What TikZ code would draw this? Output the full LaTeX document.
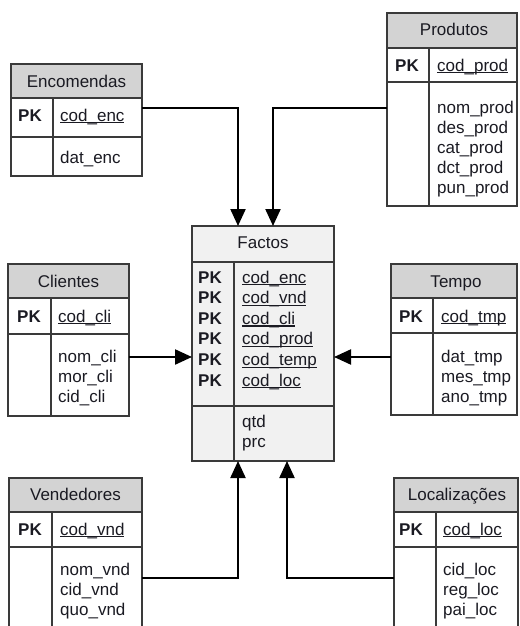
\documentclass[tikz,border=0pt]{standalone}
\usepackage{fontspec}
\setmainfont{Liberation Sans}
\usetikzlibrary{arrows.meta}

\definecolor{txt}{HTML}{1A1A22}
\definecolor{frame}{HTML}{3A3A3A}
\definecolor{headgray}{HTML}{D3D3D3}
\definecolor{factfill}{HTML}{F1F1F1}

% underlined key field, rule just under the baseline
\newcommand\keyfield[1]{\setbox0\hbox{#1}\rlap{\rule[-2.4pt]{\wd0}{1.2pt}}\box0}

\tikzset{
  % invisible shape that names the area of a table
  tablebox/.style={anchor=north west, inner sep=0, outer sep=0},
  rule/.style={draw=frame, line width=1.4pt},
  title/.style={anchor=base, inner sep=0, text=txt, font=\fontsize{17}{20}\selectfont},
  field/.style={anchor=base west, inner sep=0, text=txt, font=\fontsize{17}{20}\selectfont},
  pk/.style={field, font=\fontsize{17}{20}\selectfont\bfseries},
  conn/.style={draw=black, line width=2.2pt, -{Triangle[length=17pt,width=15pt]}},
}

\begin{document}
\begin{tikzpicture}[x=1pt,y=-1pt]
\clip (0,0) rectangle (519,626);
\fill[white] (0,0) rectangle (519,626);

% ---------- Encomendas ----------
\node[tablebox, minimum width=131pt, minimum height=112pt] (enc) at (11,64) {};
\fill[headgray] (11,64) rectangle (142,98);
\draw[rule] (11,64) rectangle (142,176);
\draw[rule] (11,98) -- (142,98) (11,137) -- (142,137) (53,98) -- (53,176);
\node[title] (enc-t) at (76.5,87) {Encomendas};
\node[pk] (enc-pk) at (18,121) {PK};
\node[field] (enc-k) at (60,121) {\keyfield{cod\_enc}};
\node[field] (enc-a1) at (60,163) {dat\_enc};

% ---------- Produtos ----------
\node[tablebox, minimum width=130pt, minimum height=193pt] (prod) at (387,13) {};
\fill[headgray] (387,13) rectangle (517,48);
\draw[rule] (387,13) rectangle (517,206);
\draw[rule] (387,48) -- (517,48) (387,82) -- (517,82) (429,48) -- (429,206);
\node[title] (prod-t) at (454,36) {Produtos};
\node[pk] (prod-pk) at (395,71) {PK};
\node[field] (prod-k) at (437,71) {\keyfield{cod\_prod}};
\node[field] (prod-a1) at (437,113) {nom\_prod};
\node[field] (prod-a2) at (437,133) {des\_prod};
\node[field] (prod-a3) at (437,153) {cat\_prod};
\node[field] (prod-a4) at (437,173) {dct\_prod};
\node[field] (prod-a5) at (437,193) {pun\_prod};

% ---------- Factos ----------
\node[tablebox, minimum width=142pt, minimum height=235pt] (fact) at (192,226) {};
\fill[factfill] (192,226) rectangle (334,461);
\draw[rule] (192,226) rectangle (334,461);
\draw[rule] (192,262) -- (334,262) (192,406) -- (334,406) (234,262) -- (234,461);
\node[title] (fact-t) at (263,248) {Factos};
\node[pk] (fact-pk1) at (198,283) {PK};
\node[pk] (fact-pk2) at (198,303.6) {PK};
\node[pk] (fact-pk3) at (198,324.2) {PK};
\node[pk] (fact-pk4) at (198,344.8) {PK};
\node[pk] (fact-pk5) at (198,365.4) {PK};
\node[pk] (fact-pk6) at (198,386) {PK};
\node[field] (fact-k1) at (242,283) {\keyfield{cod\_enc}};
\node[field] (fact-k2) at (242,303.6) {\keyfield{cod\_vnd}};
\node[field] (fact-k3) at (242,324.2) {\keyfield{cod\_cli}};
\node[field] (fact-k4) at (242,344.8) {\keyfield{cod\_prod}};
\node[field] (fact-k5) at (242,365.4) {\keyfield{cod\_temp}};
\node[field] (fact-k6) at (242,386) {\keyfield{cod\_loc}};
\node[field] (fact-a1) at (242,427) {qtd};
\node[field] (fact-a2) at (242,447) {prc};

% ---------- Clientes ----------
\node[tablebox, minimum width=121pt, minimum height=152pt] (cli) at (8,264) {};
\fill[headgray] (8,264) rectangle (129,298);
\draw[rule] (8,264) rectangle (129,416);
\draw[rule] (8,298) -- (129,298) (8,334) -- (129,334) (51,298) -- (51,416);
\node[title] (cli-t) at (68.5,287) {Clientes};
\node[pk] (cli-pk) at (17,322) {PK};
\node[field] (cli-k) at (58,322) {\keyfield{cod\_cli}};
\node[field] (cli-a1) at (58,362) {nom\_cli};
\node[field] (cli-a2) at (58,382) {mor\_cli};
\node[field] (cli-a3) at (58,402) {cid\_cli};

% ---------- Tempo ----------
\node[tablebox, minimum width=126pt, minimum height=151pt] (tmp) at (391,264) {};
\fill[headgray] (391,264) rectangle (517,298);
\draw[rule] (391,264) rectangle (517,415);
\draw[rule] (391,298) -- (517,298) (391,333) -- (517,333) (433,298) -- (433,415);
\node[title] (tmp-t) at (456,287) {Tempo};
\node[pk] (tmp-pk) at (399,322) {PK};
\node[field] (tmp-k) at (441,322) {\keyfield{cod\_tmp}};
\node[field] (tmp-a1) at (441,362) {dat\_tmp};
\node[field] (tmp-a2) at (441,382) {mes\_tmp};
\node[field] (tmp-a3) at (441,402) {ano\_tmp};

% ---------- Vendedores (runs past the lower edge) ----------
\node[tablebox, minimum width=133pt, minimum height=170pt] (vnd) at (9,478) {};
\fill[headgray] (9,478) rectangle (142,512);
\draw[rule] (9,648) -- (9,478) -- (142,478) -- (142,648);
\draw[rule] (9,512) -- (142,512) (9,547) -- (142,547) (52,512) -- (52,648);
\node[title] (vnd-t) at (75.5,500) {Vendedores};
\node[pk] (vnd-pk) at (18,535) {PK};
\node[field] (vnd-k) at (60,535) {\keyfield{cod\_vnd}};
\node[field] (vnd-a1) at (60,575) {nom\_vnd};
\node[field] (vnd-a2) at (60,595) {cid\_vnd};
\node[field] (vnd-a3) at (60,615) {quo\_vnd};

% ---------- Localizações (runs past the lower edge) ----------
\node[tablebox, minimum width=124pt, minimum height=170pt] (loc) at (394,478) {};
\fill[headgray] (394,478) rectangle (518,512);
\draw[rule] (394,648) -- (394,478) -- (518,478) -- (518,648);
\draw[rule] (394,512) -- (518,512) (394,547) -- (518,547) (436,512) -- (436,648);
\node[title] (loc-t) at (457,500) {Localizações};
\node[pk] (loc-pk) at (399,535) {PK};
\node[field] (loc-k) at (443,535) {\keyfield{cod\_loc}};
\node[field] (loc-a1) at (443,575) {cid\_loc};
\node[field] (loc-a2) at (443,595) {reg\_loc};
\node[field] (loc-a3) at (443,615) {pai\_loc};

% ---------- connectors into Factos ----------
\coordinate (toprow) at (0,108);
\coordinate (midrow) at (0,357);
\coordinate (lowrow) at (0,578);
\coordinate (colA) at (238,0);
\coordinate (colB) at (273,0);
\coordinate (colC) at (287,0);

\draw[conn] (enc.east |- toprow) -| (colA |- fact.north);
\draw[conn] (prod.west |- toprow) -| (colB |- fact.north);
\draw[conn] (cli.east |- midrow) -- (fact.west |- midrow);
\draw[conn] (tmp.west |- midrow) -- (fact.east |- midrow);
\draw[conn] (vnd.east |- lowrow) -| (colA |- fact.south);
\draw[conn] (loc.west |- lowrow) -| (colC |- fact.south);
\end{tikzpicture}
\end{document}
